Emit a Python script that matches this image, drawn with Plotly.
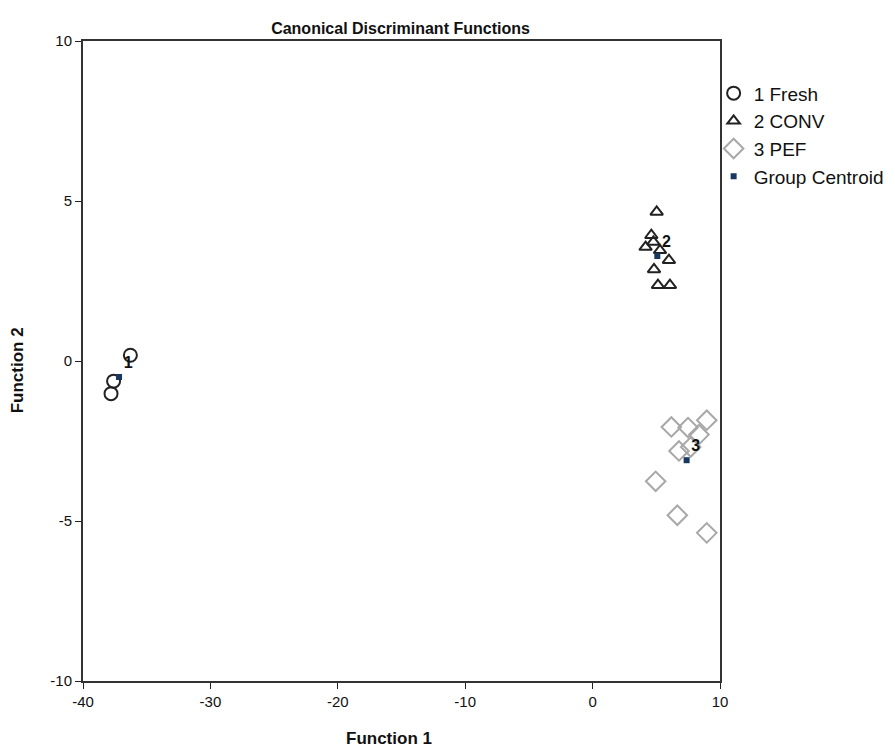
import plotly.graph_objects as go

fresh_x = [-36.28, -37.6, -37.8]
fresh_y = [0.18, -0.63, -1.02]

conv_x = [5.03, 4.61, 4.16, 4.77, 5.29, 5.99, 4.82, 5.13, 6.07]
conv_y = [4.66, 3.93, 3.56, 3.72, 3.46, 3.15, 2.86, 2.37, 2.37]

pef_x = [6.18, 7.49, 8.96, 8.35, 6.78, 7.7, 4.95, 6.65, 8.96]
pef_y = [-2.06, -2.08, -1.85, -2.3, -2.81, -2.69, -3.76, -4.82, -5.37]

centroid_x = [-37.17, 5.08, 7.38]
centroid_y = [-0.5, 3.28, -3.1]
centroid_labels = ["1", "2", "3"]

x_ticks = [-40, -30, -20, -10, 0, 10]
x_ticktext = ["-40", "-30", "-20", "-10", "0", "10"]
y_ticks = [-10, -5, 0, 5, 10]
y_ticktext = ["-10", "-5", "0", "5", "10"]

font = "Liberation Sans, Arial, sans-serif"

fig = go.Figure()
fig.add_trace(go.Scatter(
    x=fresh_x, y=fresh_y, mode="markers", name="1 Fresh",
    marker=dict(symbol="circle-open", size=13, color="#222222", line=dict(width=2))))
fig.add_trace(go.Scatter(
    x=conv_x, y=conv_y, mode="markers", name="2 CONV",
    marker=dict(symbol="triangle-up-open", size=11, color="#222222", line=dict(width=2))))
fig.add_trace(go.Scatter(
    x=pef_x, y=pef_y, mode="markers", name="3 PEF",
    marker=dict(symbol="diamond-open", size=15, color="#a8a8a8", line=dict(width=2))))
fig.add_trace(go.Scatter(
    x=centroid_x, y=centroid_y, mode="markers+text", name="Group Centroid",
    text=["<b>%s</b>" % t for t in centroid_labels], textposition="top right",
    textfont=dict(family=font, size=16, color="#111111"),
    marker=dict(symbol="square", size=6, color="#17375e")))

fig.update_layout(
    width=887, height=746,
    margin=dict(l=75, r=175, t=33, b=73, autoexpand=False),
    paper_bgcolor="white", plot_bgcolor="white",
    font=dict(family=font, color="#111111"),
    title=dict(text="<b>Canonical Discriminant Functions</b>", x=0.4425, xref="container",
               xanchor="center", y=0.973, yref="container", yanchor="middle",
               font=dict(size=16, family=font, color="#111111")),
    showlegend=True,
    legend=dict(x=0.99, y=0.948, xanchor="left", yanchor="top",
                font=dict(size=19, family=font, color="#111111"),
                itemsizing="trace", tracegroupgap=0, bgcolor="rgba(0,0,0,0)"),
    annotations=[
        dict(text="<b>Function 1</b>", xref="paper", yref="paper", x=0.481, y=-0.0891,
             xanchor="center", yanchor="middle", showarrow=False,
             font=dict(size=17, family=font, color="#111111")),
        dict(text="<b>Function 2</b>", xref="paper", yref="paper", x=-0.1015, y=0.486,
             xanchor="center", yanchor="middle", showarrow=False, textangle=-90,
             font=dict(size=17, family=font, color="#111111")),
    ],
)
fig.update_xaxes(
    range=[-40, 10], tickvals=x_ticks, ticktext=x_ticktext, ticks="outside", ticklen=6,
    tickcolor="#222222", automargin=False,
    showline=True, linecolor="#333333", linewidth=2, mirror=True, showgrid=False, zeroline=False,
    tickfont=dict(size=15, family=font, color="#111111"))
fig.update_yaxes(
    range=[-10, 10], tickvals=y_ticks, ticktext=y_ticktext, ticks="outside", ticklen=6,
    tickcolor="#222222", automargin=False,
    showline=True, linecolor="#333333", linewidth=2, mirror=True, showgrid=False, zeroline=False,
    tickfont=dict(size=15, family=font, color="#111111"))

fig.write_html("out.html")
